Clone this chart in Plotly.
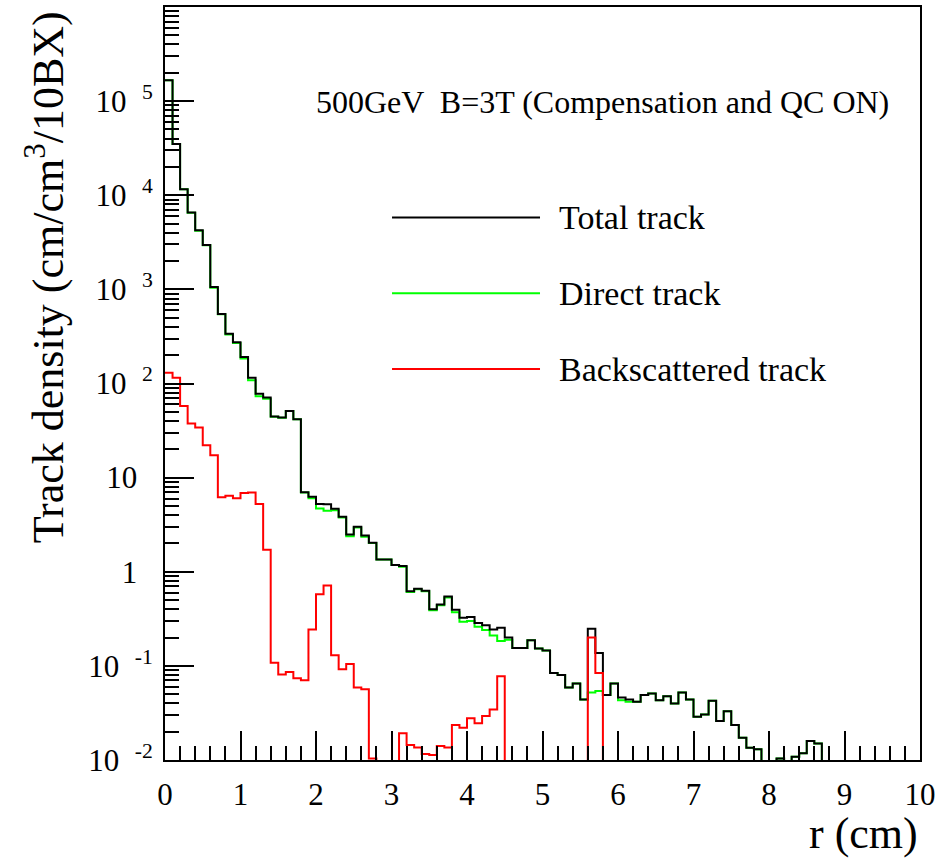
import plotly.graph_objects as go

# ---------------- data (100 bins of 0.1 cm from 0 to 10 cm) ----------------
bin_width = 0.1
n_bins = 100

total_track = [
    1.67e5, 3.5e4, 1.16e4, 6.56e3, 4.24e3, 2.96e3, 1.06e3, 549, 337, 275,
    191, 115, 78, 70.8, 44.5, 43.4, 51, 41.7, 7.0, 6.27,
    5.25, 5.2, 4.68, 3.85, 2.48, 3.01, 2.42, 2.03, 1.35, 1.35,
    1.18, 1.15, 0.62, 0.66, 0.63, 0.40, 0.45, 0.547, 0.395, 0.325,
    0.33, 0.285, 0.27, 0.243, 0.254, 0.20, 0.155, 0.155, 0.187, 0.153,
    0.146, 0.084, 0.080, 0.059, 0.065, 0.044, 0.248, 0.137, 0.049, 0.065,
    0.046, 0.044, 0.0415, 0.049, 0.051, 0.043, 0.0476, 0.0398, 0.052, 0.044,
    0.0288, 0.0305, 0.0425, 0.0259, 0.033, 0.0235, 0.0172, 0.0135, 0.013, 0,
    0, 0.0104, 0, 0.0108, 0.0118, 0.0159, 0.015, 0, 0, 0,
    0, 0, 0, 0, 0, 0, 0, 0, 0, 0,
]

direct_track = [
    1.67e5, 3.5e4, 1.16e4, 6.52e3, 4.2e3, 2.94e3, 1.04e3, 543, 331, 269,
    184, 108, 73, 69, 44.4, 43.3, 51, 41.6, 6.93, 6.03,
    4.71, 4.46, 4.5, 3.76, 2.38, 2.95, 2.36, 2.02, 1.35, 1.35,
    1.18, 1.13, 0.61, 0.65, 0.62, 0.39, 0.44, 0.533, 0.372, 0.295,
    0.30, 0.26, 0.24, 0.21, 0.184, 0.19, 0.155, 0.155, 0.187, 0.153,
    0.146, 0.084, 0.080, 0.059, 0.065, 0.044, 0.052, 0.054, 0.049, 0.065,
    0.043, 0.0415, 0.0415, 0.049, 0.051, 0.043, 0.0476, 0.0398, 0.052, 0.044,
    0.0288, 0.0305, 0.0425, 0.0259, 0.033, 0.0235, 0.0172, 0.0135, 0.013, 0,
    0, 0.0104, 0, 0.0108, 0.0118, 0.0159, 0.015, 0, 0, 0,
    0, 0, 0, 0, 0, 0, 0, 0, 0, 0,
]

backscattered_track = [
    130, 115, 57.8, 37.5, 34, 22.1, 17.3, 6.17, 6.43, 6.02,
    6.86, 6.95, 5.25, 1.71, 0.108, 0.081, 0.086, 0.074, 0.0704, 0.243,
    0.575, 0.714, 0.130, 0.092, 0.105, 0.059, 0.0565, 0.0104, 0, 0,
    0, 0.0192, 0.0144, 0.0136, 0.0116, 0.0113, 0.0141, 0.0136, 0.0235, 0.022,
    0.0277, 0.0245, 0.0294, 0.0344, 0.0776, 0, 0, 0, 0, 0,
    0, 0, 0, 0, 0, 0, 0.2, 0.084, 0, 0,
    0, 0, 0, 0, 0, 0, 0, 0, 0, 0,
    0, 0, 0, 0, 0, 0, 0, 0, 0, 0,
    0, 0, 0, 0, 0, 0, 0, 0, 0, 0,
    0, 0, 0, 0, 0, 0, 0, 0, 0, 0,
]

series_names = ["Total track", "Direct track", "Backscattered track"]
series_colors = ["#000000", "#00ff00", "#ff0000"]

y_tick_vals = [1e-2, 1e-1, 1, 10, 1e2, 1e3, 1e4, 1e5]
y_tick_text = ["10&#8194;<sup>-2</sup>", "10&#8194;<sup>-1</sup>", "1&#8194;", "10&#8194;",
               "10&#8194;<sup>2</sup>", "10&#8194;<sup>3</sup>", "10&#8194;<sup>4</sup>",
               "10&#8194;<sup>5</sup>"]
x_tick_vals = [0, 1, 2, 3, 4, 5, 6, 7, 8, 9, 10]
x_tick_text = [str(v) for v in x_tick_vals]

title_text = "500GeV  B=3T (Compensation and QC ON)"
x_title = "r (cm)"
y_title = "Track density (cm/cm<sup>3</sup>/10BX)"

FONT = "Liberation Serif, Times New Roman, serif"
FLOOR = 1e-4  # empty bins are drawn below the axis, like ROOT does


def step_xy(values):
    edges = [i * bin_width for i in range(n_bins + 1)]
    ys = [v if v > 0 else FLOOR for v in values]
    return edges, ys + [ys[-1]]


fig = go.Figure()
# draw order: direct, total, backscattered
for name, vals, col in [(series_names[1], direct_track, series_colors[1]),
                        (series_names[0], total_track, series_colors[0]),
                        (series_names[2], backscattered_track, series_colors[2])]:
    xs, ys = step_xy(vals)
    fig.add_trace(go.Scatter(x=xs, y=ys, mode="lines", name=name,
                             line=dict(color=col, width=2, shape="hv"),
                             showlegend=False, hoverinfo="skip"))

minor_y = [k * 10 ** e for e in range(-2, 6) for k in range(2, 10)]

fig.update_layout(
    width=945, height=861,
    margin=dict(l=165, r=25, t=5, b=101),
    paper_bgcolor="white", plot_bgcolor="white",
    font=dict(family=FONT, color="black", size=30),
    showlegend=False,
    xaxis=dict(range=[0, 10], tickmode="array", tickvals=x_tick_vals, ticktext=x_tick_text,
               ticks="inside", ticklen=29, tickwidth=2, tickcolor="black",
               minor=dict(tickmode="linear", tick0=0, dtick=0.2, ticks="inside",
                          ticklen=14, tickwidth=2, tickcolor="black", showgrid=False),
               showline=True, linecolor="black", linewidth=2, mirror=True,
               showgrid=False, zeroline=False, ticklabelstandoff=6,
               tickfont=dict(family=FONT, size=31, color="black")),
    yaxis=dict(type="log", range=[-2, 6], tickmode="array", tickvals=y_tick_vals,
               ticktext=y_tick_text,
               ticks="inside", ticklen=29, tickwidth=2, tickcolor="black",
               minor=dict(tickmode="array", tickvals=minor_y, ticks="inside",
                          ticklen=14, tickwidth=2, tickcolor="black", showgrid=False),
               showline=True, linecolor="black", linewidth=2, mirror=True,
               showgrid=False, zeroline=False, ticklabelstandoff=4,
               tickfont=dict(family=FONT, size=31, color="black")),
)

annotations = [
    dict(text=title_text, x=0.197, y=0.874, xref="paper", yref="paper",
         xanchor="left", yanchor="middle", showarrow=False,
         font=dict(family=FONT, size=32, color="black")),
    dict(text=x_title, x=1.0, y=-0.097, xref="paper", yref="paper",
         xanchor="right", yanchor="middle", showarrow=False,
         font=dict(family=FONT, size=44, color="black")),
    dict(text=y_title, x=-0.159, y=0.641, xref="paper", yref="paper",
         xanchor="center", yanchor="middle", showarrow=False, textangle=-90,
         font=dict(family=FONT, size=44, color="black")),
]

legend_y = [0.7205, 0.6199, 0.5192]
shapes = []
for name, col, ly in zip(series_names, series_colors, legend_y):
    shapes.append(dict(type="line", xref="paper", yref="paper",
                       x0=0.3007, x1=0.4967, y0=ly, y1=ly,
                       line=dict(color=col, width=2)))
    annotations.append(dict(text=name, x=0.519, y=ly, xref="paper", yref="paper",
                            xanchor="left", yanchor="middle", showarrow=False,
                            font=dict(family=FONT, size=34, color="black")))

fig.update_layout(annotations=annotations, shapes=shapes)
fig.write_html("out.html")
